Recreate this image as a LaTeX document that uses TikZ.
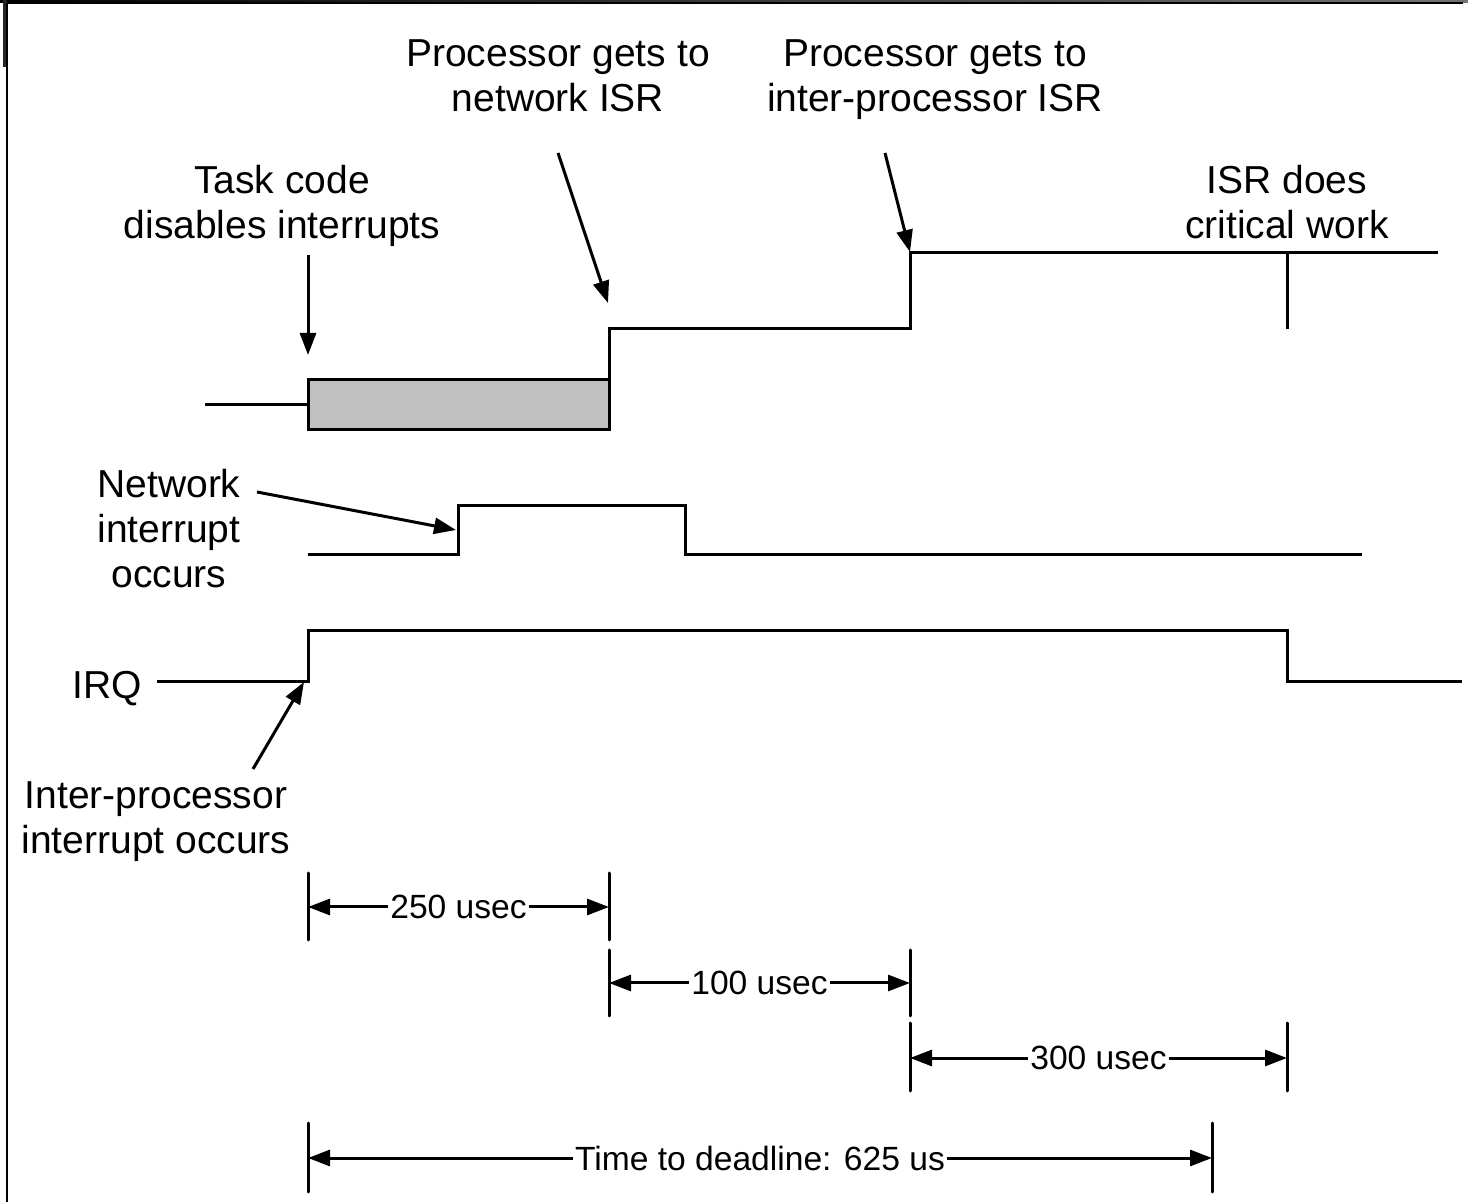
\documentclass[tikz,border=0pt]{standalone}
\usepackage{fontspec}
\setmainfont{Liberation Sans}
\usetikzlibrary{arrows.meta}
\definecolor{boxgray}{HTML}{C0C0C0}

\begin{document}
\begin{tikzpicture}[x=0.5pt,y=-0.5pt,line width=1.5pt,
                    note/.style={align=center,inner sep=0pt,font=\fontsize{19.5}{22.5}\selectfont,
                                 execute at begin node=\strut,execute at end node=\strut},
                    dim label/.style={fill=white,inner sep=0.5pt,font=\fontsize{16.8}{20}\selectfont},
                    pointer/.style={-{Triangle[length=11pt,width=8pt]}},
                    tick/.style={line cap=round}]

        \useasboundingbox (0,0) rectangle (1468,1202);

        % Window frame
        \shade[left color=black,right color=black!55] (0,0) rectangle (1468,3);
        \fill[black!85] (3,0) rectangle (7,67);
        \draw[line width=1pt] (6.5,3.5) -- (1463,3.5);
        \draw[line width=1pt] (6.5,3.5) -- (6.5,1202);

        % Define time points
        \coordinate (t0) at (308,0);
        \coordinate (t1) at (609,0);
        \coordinate (t2) at (910,0);
        \coordinate (t3) at (1287,0);
        \coordinate (tdl) at (1212,0);

        % Processor activity
        \draw (205,405) -- (308,405);
        \filldraw[fill=boxgray] (308,380) rectangle (609,430);
        \draw (609,380) -- (609,329) -- (910,329) -- (910,253) -- (1438,253);
        \draw (1287,253) -- (1287,329);

        % Network interrupt line
        \draw (308,555) -- (458,555) -- (458,506) -- (685,506) -- (685,555) -- (1362,555);

        % IRQ line
        \node[note] (irq) at (107,690) {IRQ};
        \draw (157,682) -- (308,682) -- (308,631) -- (1287,631) -- (1287,682) -- (1462,682);

        % Notes
        \node[note] (task) at (282,208.5) {Task code\\disables interrupts};
        \node[note] (netisr) at (558,82.5) {Processor gets to\\network ISR};
        \node[note] (ipisr) at (935,82.5) {Processor gets to\\inter-processor ISR};
        \node[note] (crit) at (1287,208.5) {ISR does\\critical work};
        \node[note] (netint) at (169,535) {Network\\interrupt\\occurs};
        \node[note] (ipint) at (156,824.5) {Inter-processor\\interrupt occurs};

        % Pointers
        \coordinate (task from) at (308,255);
        \coordinate (task to) at (308,355);
        \coordinate (netisr from) at (558,153);
        \coordinate (netisr to) at (608,303);
        \coordinate (ipisr from) at (885,153);
        \coordinate (ipisr to) at (910,252);
        \coordinate (netint from) at (257,492);
        \coordinate (netint to) at (456,530);
        \coordinate (ipint from) at (253,769);
        \coordinate (ipint to) at (304,682);
        \draw[pointer] (task from) -- (task to);
        \draw[pointer] (netisr from) -- (netisr to);
        \draw[pointer] (ipisr from) -- (ipisr to);
        \draw[pointer] (netint from) -- (netint to);
        \draw[pointer] (ipint from) -- (ipint to);

        % Time spans
        \draw[tick] (t0 |- 0,873) -- (t0 |- 0,940);
        \draw[tick] (t1 |- 0,873) -- (t1 |- 0,940);
        \node[dim label] (d250) at (458.5,907) {250 usec};
        \draw[pointer] (d250.west) -- (d250.west -| t0);
        \draw[pointer] (d250.east) -- (d250.east -| t1);

        \draw[tick] (t1 |- 0,950) -- (t1 |- 0,1016);
        \draw[tick] (t2 |- 0,950) -- (t2 |- 0,1016);
        \node[dim label] (d100) at (759.5,983) {100 usec};
        \draw[pointer] (d100.west) -- (d100.west -| t1);
        \draw[pointer] (d100.east) -- (d100.east -| t2);

        \draw[tick] (t2 |- 0,1023) -- (t2 |- 0,1091);
        \draw[tick] (t3 |- 0,1023) -- (t3 |- 0,1091);
        \node[dim label] (d300) at (1098.5,1058) {300 usec};
        \draw[pointer] (d300.west) -- (d300.west -| t2);
        \draw[pointer] (d300.east) -- (d300.east -| t3);

        \draw[tick] (t0 |- 0,1123) -- (t0 |- 0,1192);
        \draw[tick] (tdl |- 0,1123) -- (tdl |- 0,1192);
        \node[dim label] (ddl) at (760,1158) {Time to deadline: 625 us};
        \draw[pointer] (ddl.west) -- (ddl.west -| t0);
        \draw[pointer] (ddl.east) -- (ddl.east -| tdl);
\end{tikzpicture}
\end{document}
